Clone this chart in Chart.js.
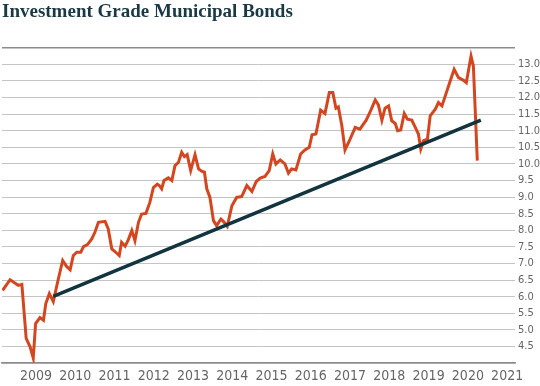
<!DOCTYPE html>
<html>
<head>
<meta charset="utf-8">
<title>Investment Grade Municipal Bonds</title>
<script src="https://cdn.jsdelivr.net/npm/chart.js@4/dist/chart.umd.min.js"></script>
<style>
  html, body { margin: 0; padding: 0; background: #fff; }
  #wrap { width: 540px; height: 386px; position: relative; }
</style>
</head>
<body>
<div id="wrap"><canvas id="chart"></canvas></div>
<script>
  // monthly readings, x as decimal year
  var BOND_DATES = [
    2008.15, 2008.34, 2008.46, 2008.55, 2008.64, 2008.75, 2008.85, 2008.93, 2008.99, 2009.10,
    2009.19, 2009.25, 2009.34, 2009.44, 2009.57, 2009.68, 2009.78, 2009.87, 2009.95, 2010.04,
    2010.14, 2010.21, 2010.31, 2010.42, 2010.50, 2010.59, 2010.76, 2010.84, 2010.93, 2011.01,
    2011.12, 2011.18, 2011.27, 2011.35, 2011.44, 2011.52, 2011.61, 2011.69, 2011.80, 2011.90,
    2011.99, 2012.09, 2012.14, 2012.20, 2012.26, 2012.37, 2012.46, 2012.54, 2012.63, 2012.71,
    2012.78, 2012.85, 2012.94, 2013.05, 2013.14, 2013.22, 2013.29, 2013.35, 2013.43, 2013.52,
    2013.60, 2013.71, 2013.77, 2013.87, 2013.99, 2014.11, 2014.24, 2014.37, 2014.50, 2014.61,
    2014.71, 2014.83, 2014.94, 2015.03, 2015.11, 2015.22, 2015.34, 2015.43, 2015.51, 2015.62,
    2015.74, 2015.85, 2015.96, 2016.03, 2016.13, 2016.25, 2016.36, 2016.47, 2016.56, 2016.64,
    2016.70, 2016.79, 2016.87, 2017.00, 2017.13, 2017.25, 2017.41, 2017.53, 2017.64, 2017.72,
    2017.81, 2017.89, 2017.98, 2018.06, 2018.15, 2018.21, 2018.29, 2018.38, 2018.46, 2018.57,
    2018.66, 2018.74, 2018.80, 2018.87, 2018.97, 2019.04, 2019.17, 2019.25, 2019.34, 2019.46,
    2019.55, 2019.65, 2019.76, 2019.89, 2019.96, 2020.08, 2020.14, 2020.24
  ];
  var BOND_VALUES = [
    6.19, 6.51, 6.41, 6.34, 6.37, 4.74, 4.49, 4.15, 5.19, 5.37,
    5.29, 5.79, 6.09, 5.85, 6.54, 7.09, 6.91, 6.81, 7.24, 7.34,
    7.34, 7.51, 7.57, 7.74, 7.94, 8.24, 8.27, 8.04, 7.44, 7.36,
    7.24, 7.64, 7.52, 7.71, 7.99, 7.69, 8.24, 8.49, 8.51, 8.84,
    9.29, 9.39, 9.35, 9.25, 9.50, 9.58, 9.50, 9.95, 10.05, 10.35,
    10.22, 10.28, 9.80, 10.28, 9.85, 9.78, 9.75, 9.25, 8.99, 8.29,
    8.14, 8.34, 8.27, 8.12, 8.74, 8.99, 9.02, 9.35, 9.17, 9.47,
    9.57, 9.62, 9.80, 10.30, 10.00, 10.12, 10.00, 9.72, 9.85, 9.82,
    10.30, 10.42, 10.50, 10.88, 10.90, 11.62, 11.52, 12.15, 12.15, 11.68,
    11.72, 11.15, 10.42, 10.75, 11.10, 11.05, 11.32, 11.62, 11.93, 11.78,
    11.32, 11.68, 11.75, 11.30, 11.22, 11.00, 11.02, 11.52, 11.35, 11.32,
    11.10, 10.90, 10.45, 10.70, 10.75, 11.45, 11.65, 11.85, 11.75, 12.18,
    12.50, 12.85, 12.60, 12.52, 12.45, 13.25, 12.95, 10.10
  ];
  var TREND_DATES = [2009.44, 2020.33];
  var TREND_VALUES = [6.01, 11.32];
  var YEAR_TICKS = [2009, 2010, 2011, 2012, 2013, 2014, 2015, 2016, 2017, 2018, 2019, 2020, 2021];

  var NARROW = "'Liberation Sans Narrow', 'DejaVu Sans Condensed', sans-serif";

  function toPoints(xs, ys) {
    var pts = [];
    for (var i = 0; i < xs.length; i++) {
      pts.push({ x: xs[i], y: ys[i] });
    }
    return pts;
  }

  new Chart(document.getElementById('chart'), {
    type: 'line',
    data: {
      datasets: [{
        label: 'Trend',
        data: toPoints(TREND_DATES, TREND_VALUES),
        borderColor: '#12343f',
        borderWidth: 3.5,
        pointRadius: 0,
        tension: 0,
      }, {
        label: 'Investment Grade Municipal Bonds',
        data: toPoints(BOND_DATES, BOND_VALUES),
        borderColor: '#d4461f',
        borderWidth: 3,
        pointRadius: 0,
        tension: 0,
      }],
    },
    options: {
      responsive: true,
      maintainAspectRatio: false,
      animation: false,
      layout: { padding: { left: 2, right: 0, top: 0, bottom: 0 } },
      plugins: {
        legend: { display: false },
        tooltip: { enabled: false },
        title: {
          display: true,
          text: 'Investment Grade Municipal Bonds',
          align: 'start',
          color: '#1b3945',
          font: { family: "'Liberation Serif', 'DejaVu Serif', serif", size: 19, weight: 'bold' },
          padding: { top: 1, bottom: 24 },
        },
      },
      scales: {
        x: {
          type: 'linear',
          min: 2008.134,
          max: 2021.2,
          afterBuildTicks: function (scale) {
            scale.ticks = YEAR_TICKS.map(function (v) { return { value: v }; });
          },
          afterFit: function (scale) { scale.height = 23; },
          grid: { display: false, drawTicks: false },
          border: { display: true, color: '#8c8c8c', width: 1.5 },
          ticks: {
            color: '#666',
            padding: 5,
            maxRotation: 0,
            autoSkip: false,
            font: { family: NARROW, size: 14 },
            callback: function (v) { return String(v); },
          },
        },
        y: {
          position: 'right',
          min: 4,
          max: 13.5,
          afterFit: function (scale) { scale.width = 25; },
          grid: {
            drawTicks: false,
            color: function (ctx) {
              if (ctx.tick && ctx.tick.value === 13.5) return '#8c8c8c';
              return '#c4c4c4';
            },
            lineWidth: function (ctx) {
              return ctx.tick && ctx.tick.value === 13.5 ? 1.5 : 1;
            },
          },
          border: { display: false },
          ticks: {
            stepSize: 0.5,
            autoSkip: false,
            color: '#666',
            padding: 3,
            font: { family: NARROW, size: 11 },
            callback: function (v) {
              if (v === 4 || v === 13.5) return '';
              return v.toFixed(1);
            },
          },
        },
      },
    },
  });
</script>
</body>
</html>
